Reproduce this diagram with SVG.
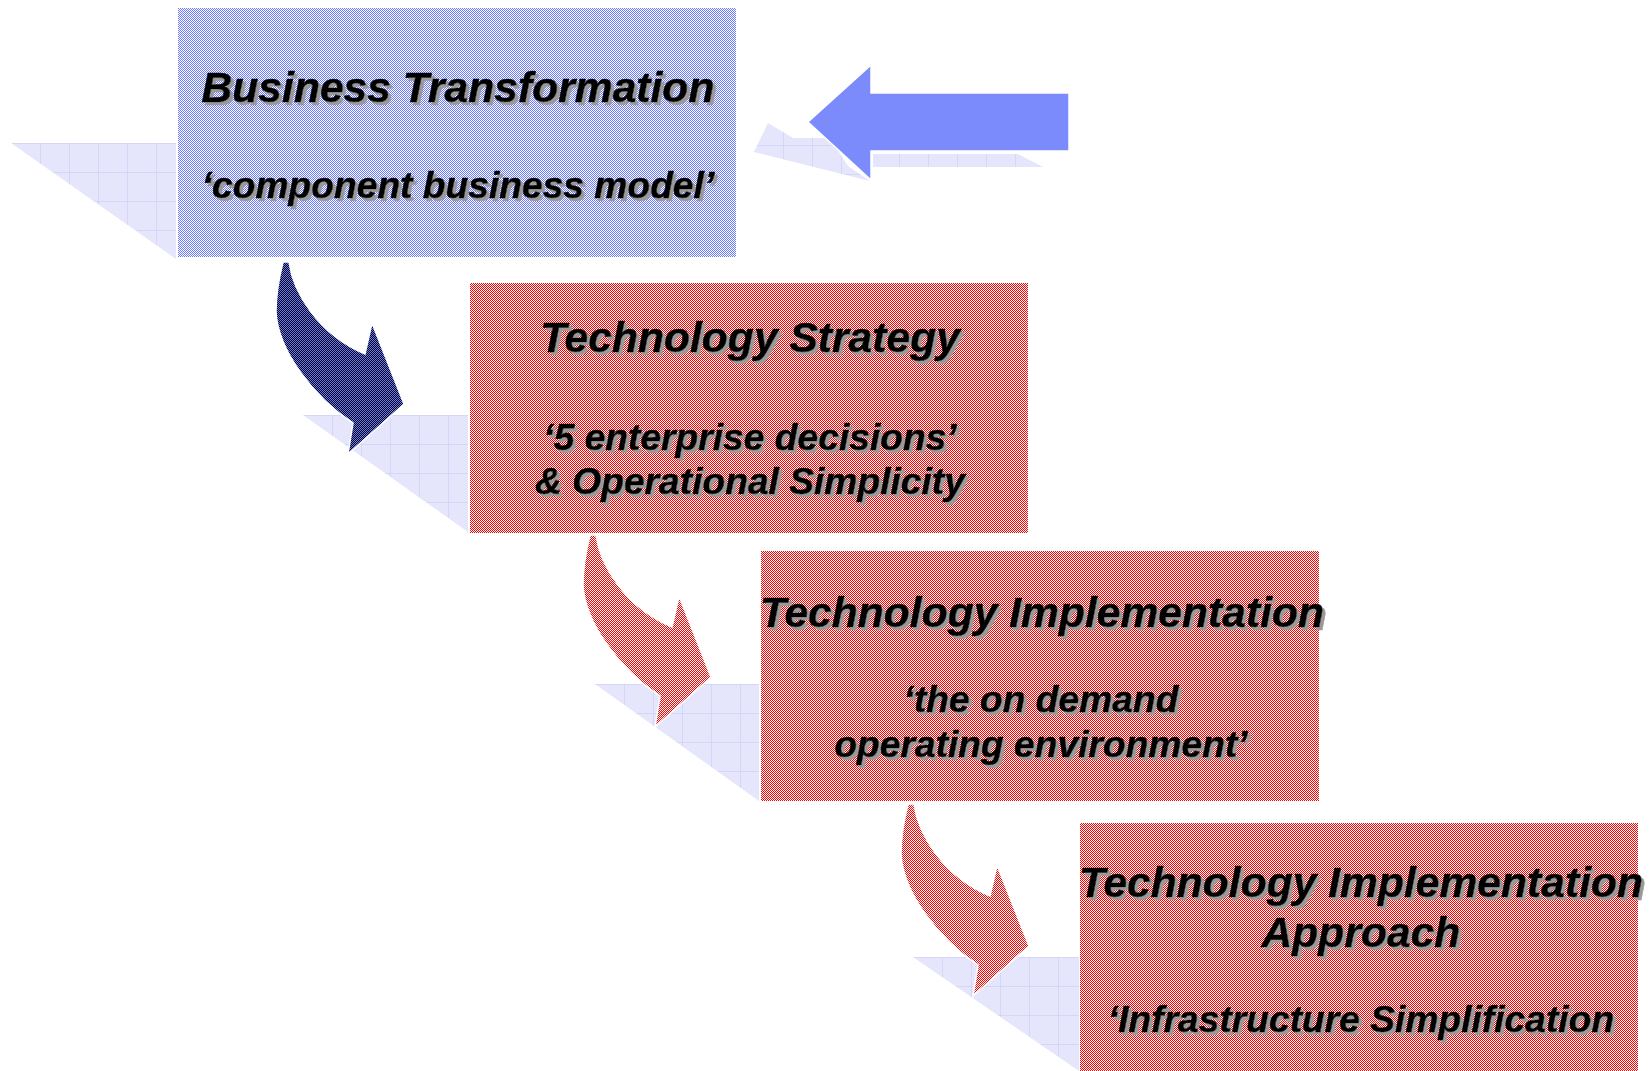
<svg xmlns="http://www.w3.org/2000/svg" xmlns:xlink="http://www.w3.org/1999/xlink" width="1650" height="1071" viewBox="0 0 1650 1071">
<style>
.t{font-family:"Liberation Sans",Arial,Helvetica,sans-serif;font-weight:bold;font-style:italic;text-anchor:middle;fill:#000;stroke:#000;stroke-width:0.6;filter:url(#ts)}
.h{font-size:42.6px}
.s{font-size:37.2px}
.sh{fill:url(#grid)}
.arw{stroke:#ffffff;stroke-width:1.5;stroke-linejoin:miter}
</style>
<defs>
<pattern id="pBlue" width="2" height="2" patternUnits="userSpaceOnUse">
<rect width="2" height="2" fill="#ffffff"/>
<rect width="1" height="1" fill="#6b7bff"/>
<rect x="1" y="1" width="1" height="1" fill="#6b7bff"/>
</pattern>
<pattern id="pRed" width="2" height="2" patternUnits="userSpaceOnUse">
<rect width="2" height="2" fill="#ffffff"/>
<rect width="1" height="1" fill="#ff0000"/>
<rect x="1" y="1" width="1" height="1" fill="#ff0000"/>
</pattern>
<pattern id="pNavy" width="2" height="2" patternUnits="userSpaceOnUse">
<rect width="2" height="2" fill="#6b7bff"/>
<rect width="1" height="1" fill="#000008"/>
<rect x="1" y="1" width="1" height="1" fill="#000008"/>
</pattern>
<pattern id="grid" width="29" height="29" patternUnits="userSpaceOnUse">
<rect width="29" height="29" fill="#e5e5fc"/>
<path d="M0,0H29M0,0V29" stroke="#d2d2f8" stroke-width="1.5" fill="none"/>
</pattern>
<filter id="ts" x="-5%" y="-30%" width="112%" height="170%">
<feFlood flood-color="#999999" result="f"/>
<feComposite in="f" in2="SourceAlpha" operator="in" result="c"/>
<feOffset in="c" dx="3" dy="3" result="o"/>
<feMerge><feMergeNode in="o"/><feMergeNode in="SourceGraphic"/></feMerge>
</filter>
<path id="curv" d="M0,0 L6,0 C10,30 35,72 82,92 L89,61 L121,142 L65,192 L70,161 C30,135 -5,88 -7,50 C-7,30 -3,12 0,0 Z"/>
</defs>
<rect width="1650" height="1071" fill="#ffffff"/>

<g id="shadows">
<g transform="translate(11,143)"><polygon class="sh" points="0,0 165,0 165,116"/></g>
<g transform="translate(303,415)"><polygon class="sh" points="0,0 165,0 165,117"/></g>
<g transform="translate(595,684)"><polygon class="sh" points="0,0 164,0 164,117"/></g>
<g transform="translate(913,957)"><polygon class="sh" points="0,0 166,0 166,114"/></g>
</g>

<g id="node-business">
<rect x="178" y="8" width="558" height="249" fill="url(#pBlue)"/>
<text class="t h" x="458" y="102">Business Transformation</text>
<text class="t s" x="458" y="198">‘component business model’</text>
</g>

<g id="node-strategy">
<rect x="470" y="283" width="558" height="250" fill="url(#pRed)"/>
<text class="t h" x="750" y="352">Technology Strategy</text>
<text class="t s" x="750" y="450">‘5 enterprise decisions’</text>
<text class="t s" x="750" y="494">&amp; Operational Simplicity</text>
</g>

<g id="node-implementation">
<rect x="761" y="551" width="558" height="250" fill="url(#pRed)"/>
<text class="t h" x="1042" y="627">Technology Implementation</text>
<text class="t s" x="1041" y="712">‘the on demand</text>
<text class="t s" x="1041" y="757">operating environment’</text>
</g>

<g id="node-approach">
<rect x="1080" y="823" width="558" height="248" fill="url(#pRed)"/>
<text class="t h" x="1361" y="897">Technology Implementation</text>
<text class="t h" x="1361" y="947">Approach</text>
<text class="t s" x="1361" y="1032">‘Infrastructure Simplification</text>
</g>

<g id="connectors">
<g id="input-arrow">
<polygon class="sh" points="754,152 768,123 793,138 830,138 848,166 870,181"/>
<polygon class="sh" points="873,154 1018,154 1043,167 873,167"/>
<polygon points="808,122 871,65 871,93 1069,93 1069,151 871,151 871,180" fill="#7b8bfb" stroke="#ffffff" stroke-width="1.5"/>
</g>
<use xlink:href="#curv" x="283" y="262" class="arw" fill="url(#pNavy)"/>
<use xlink:href="#curv" x="590" y="535" class="arw" fill="url(#pRed)"/>
<use xlink:href="#curv" x="908" y="804" class="arw" fill="url(#pRed)"/>
</g>
</svg>
